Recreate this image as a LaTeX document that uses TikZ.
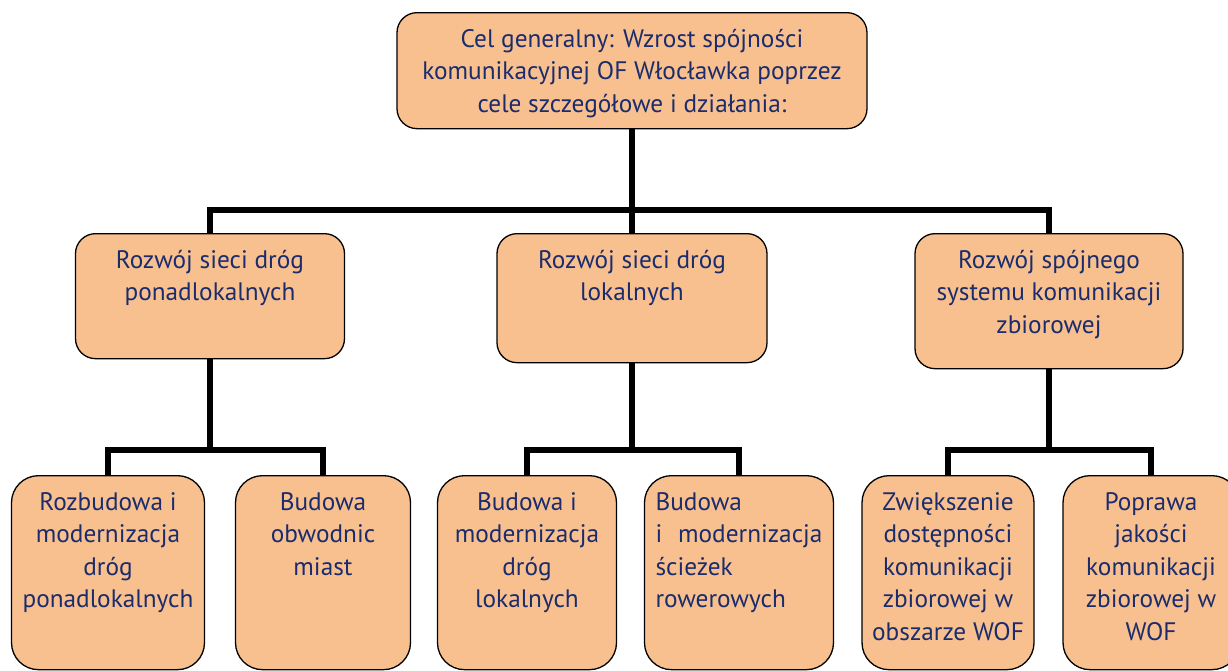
\documentclass[tikz,border=0pt]{standalone}
\usepackage{fontspec}
\setmainfont{PT Sans}
\usetikzlibrary{positioning}
\definecolor{boxfill}{HTML}{F9C08F}
\definecolor{txtblue}{HTML}{1A2C6C}
\newcommand{\boxtxt}[4][\centering]{\parbox[t][#3][t]{#2}{#1\strut #4}}
\begin{document}
\begin{tikzpicture}[x=1pt, y=-1pt, font=\fontsize{25.3}{32.5}\selectfont, line join=miter,
	box/.style={draw=black, line width=1.3pt, fill=boxfill, text=txtblue, rounded corners=20pt, inner xsep=0pt, inner ysep=12pt, anchor=north},
	lowbox/.style={box, rounded corners=27pt},
	conn/.style={line width=5.5pt}]
	\def\xmax{1228} \def\ymax{670}
	\useasboundingbox (0,0) rectangle (\xmax,\ymax);
	\clip (0,0) rectangle (\xmax,\ymax);
	% cel generalny
	\node[box, minimum width=470pt] (cel) at (632,12) {\boxtxt{455pt}{92pt}{Cel generalny: Wzrost spójności\\ komunikacyjnej OF Włocławka poprzez\\ cele szczegółowe i działania:}};
	% cele szczegolowe
	\node[box, minimum width=269pt] (r1) at (210,233) {\boxtxt{255pt}{101pt}{Rozwój sieci dróg\\ ponadlokalnych}};
	\node[box, minimum width=270pt] (r2) at (632,233) {\boxtxt{255pt}{105pt}{Rozwój sieci dróg\\ lokalnych}};
	\node[box, minimum width=268pt] (r3) at (1049,233) {\boxtxt{255pt}{111pt}{Rozwój spójnego\\ systemu komunikacji\\ zbiorowej}};
	% dzialania
	\node[lowbox, minimum width=193pt] (d1) at (108,475) {\boxtxt{188pt}{170pt}{Rozbudowa i\\ modernizacja\\ dróg\\ ponadlokalnych}};
	\node[lowbox, minimum width=175pt] (d2) at (323,475) {\boxtxt{170pt}{170pt}{Budowa\\ obwodnic\\ miast}};
	\node[lowbox, minimum width=179pt] (d3) at (527,475) {\boxtxt{174pt}{170pt}{Budowa i\\ modernizacja\\ dróg\\ lokalnych}};
	\node[lowbox, minimum width=189pt] (d4) at (739,475) {\boxtxt[\raggedright]{167pt}{170pt}{Budowa\\ i\hfill modernizacja\\ ścieżek\\ rowerowych}};
	\node[lowbox, minimum width=172pt] (d5) at (948,475) {\boxtxt{170pt}{170pt}{Zwiększenie\\ dostępności\\ komunikacji\\ zbiorowej w\\ obszarze WOF}};
	\node[lowbox, minimum width=176pt] (d6) at (1151,475) {\boxtxt{170pt}{170pt}{Poprawa\\ jakości\\ komunikacji\\ zbiorowej w\\ WOF}};
	% polaczenia
	\coordinate (bus1) at (632,210);
	\coordinate (bus2) at (0,450);
	\draw[conn] (cel.south) -- (r2.north);
	\draw[conn] (r1.north) |- (bus1) -| (r3.north);
	\foreach \p/\a/\b in {r1/d1/d2, r2/d3/d4, r3/d5/d6} {
		\draw[conn] (\p.south) -- (\p.south |- bus2);
		\draw[conn] (\a.north) |- (\p.south |- bus2) -| (\b.north);
	}
\end{tikzpicture}
\end{document}
